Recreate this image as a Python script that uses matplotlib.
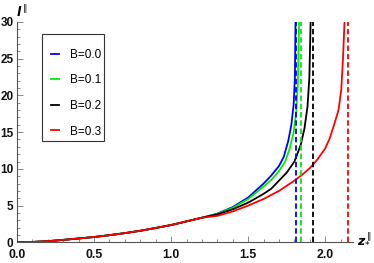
import matplotlib
matplotlib.use("Agg")
import matplotlib.pyplot as plt
from matplotlib.ticker import MultipleLocator
from matplotlib.lines import Line2D
from matplotlib.patches import Rectangle

# Shared low-z part (all curves nearly coincide)
z_low = [0.0, 0.1, 0.2, 0.3, 0.4, 0.5, 0.6, 0.7, 0.8, 0.9, 1.0, 1.1, 1.2]
l_low = [0.0, 0.05, 0.15, 0.33, 0.52, 0.72, 0.97, 1.25, 1.57, 1.95, 2.35, 2.85, 3.35]

z_b0 = [1.3, 1.4, 1.5, 1.6, 1.65, 1.7, 1.73, 1.76, 1.78, 1.795, 1.803, 1.807]
l_b0 = [3.9, 4.8, 6.1, 8.0, 9.1, 10.4, 11.6, 13.8, 16.0, 18.8, 22.5, 30.0]

z_b1 = [1.3, 1.4, 1.5, 1.6, 1.65, 1.7, 1.74, 1.77, 1.795, 1.812, 1.822, 1.83]
l_b1 = [3.85, 4.7, 5.9, 7.6, 8.5, 9.7, 11.0, 12.8, 15.0, 17.8, 21.5, 30.0]

z_b2 = [1.3, 1.4, 1.5, 1.6, 1.65, 1.7, 1.75, 1.8, 1.84, 1.865, 1.885, 1.897, 1.905]
l_b2 = [3.8, 4.5, 5.4, 6.6, 7.3, 8.4, 9.5, 11.0, 13.2, 15.5, 18.5, 22.5, 30.0]

z_b3 = [1.3, 1.4, 1.5, 1.6, 1.7, 1.8, 1.85, 1.9, 1.95, 2.0, 2.03, 2.06, 2.086, 2.104, 2.115, 2.125]
l_b3 = [3.6, 4.2, 5.0, 5.9, 7.0, 8.4, 9.2, 10.1, 11.3, 12.8, 14.2, 16.2, 18.0, 20.8, 25.0, 30.0]

asymptotes = [1.810, 1.843, 1.918, 2.147]
labels = ["B=0.0", "B=0.1", "B=0.2", "B=0.3"]
colors = ["#0000ff", "#00ee00", "#000000", "#ff0000"]

xtick_vals = [0.0, 0.5, 1.0, 1.5, 2.0]
xtick_labels = ["0.0", "0.5", "1.0", "1.5", "2.0"]
ytick_vals = [0, 5, 10, 15, 20, 25, 30]
ytick_labels = ["0", "5", "10", "15", "20", "25", "30"]

curves_z = [z_b0, z_b1, z_b2, z_b3]
curves_l = [l_b0, l_b1, l_b2, l_b3]

W, H = 374, 263
fig = plt.figure(figsize=(W / 100, H / 100), dpi=100)
ax = fig.add_axes([17 / W, 1 - 242.3 / H, (353 - 17) / W, (242.3 - 22) / H])

for zs, ls, c in zip(curves_z, curves_l, colors):
    ax.plot(z_low + zs, l_low + ls, color=c, lw=1.3, solid_capstyle="butt", zorder=3)
for a, c in zip(asymptotes, colors):
    ax.plot([a, a], [0, 30], color=c, lw=1.3, ls=(0, (3.0, 1.6)), zorder=4)

ax.set_xlim(0, 2.18)
ax.set_ylim(0, 30)
for s in ["top", "right"]:
    ax.spines[s].set_visible(False)
for s in ["left", "bottom"]:
    ax.spines[s].set_color("#555555")
    ax.spines[s].set_linewidth(0.8)

ax.xaxis.set_minor_locator(MultipleLocator(0.1))
ax.yaxis.set_minor_locator(MultipleLocator(1))
ax.set_xticks(xtick_vals)
ax.set_xticklabels(xtick_labels, fontfamily="Liberation Sans", fontweight="bold",
                   fontsize=8.8, color="#111111")
ax.set_yticks(ytick_vals)
ax.set_yticklabels(ytick_labels, fontfamily="Liberation Sans", fontweight="bold",
                   fontsize=8.5, color="#111111")
ax.tick_params(which="both", direction="in", color="#777777", width=0.6)
ax.tick_params(which="major", length=4)
ax.tick_params(which="minor", length=2)
ax.tick_params(axis="x", pad=4.5)
ax.tick_params(axis="y", pad=2.5)

fig.text(22 / W, 1 - 12 / H, r"$\boldsymbol{l}^{\parallel}$", fontsize=9, ha="center", va="center")
fig.text(357 / W, 1 - 238 / H, r"$\boldsymbol{z}_{*}^{\parallel}$", fontsize=9, ha="left", va="center")

# legend box (drawn separately to match its proportions)
ax.add_patch(Rectangle((42 / W, 1 - 141 / H), (104 - 42) / W, (141 - 34) / H,
                       transform=fig.transFigure, facecolor="white",
                       edgecolor="#333333", linewidth=0.8, zorder=5, clip_on=False))
handles = [Line2D([0], [0], color=c, lw=1.3) for c in colors]
leg = ax.legend(handles, labels, loc="upper left",
                bbox_to_anchor=(45 / W, 1 - 43 / H), bbox_transform=fig.transFigure,
                prop={"family": "Liberation Sans", "size": 8.5},
                handlelength=0.68, handletextpad=0.93, labelspacing=1.15,
                borderpad=0.5, borderaxespad=0, frameon=False)
leg.set_zorder(6)

fig.savefig("out.png", dpi=100)
